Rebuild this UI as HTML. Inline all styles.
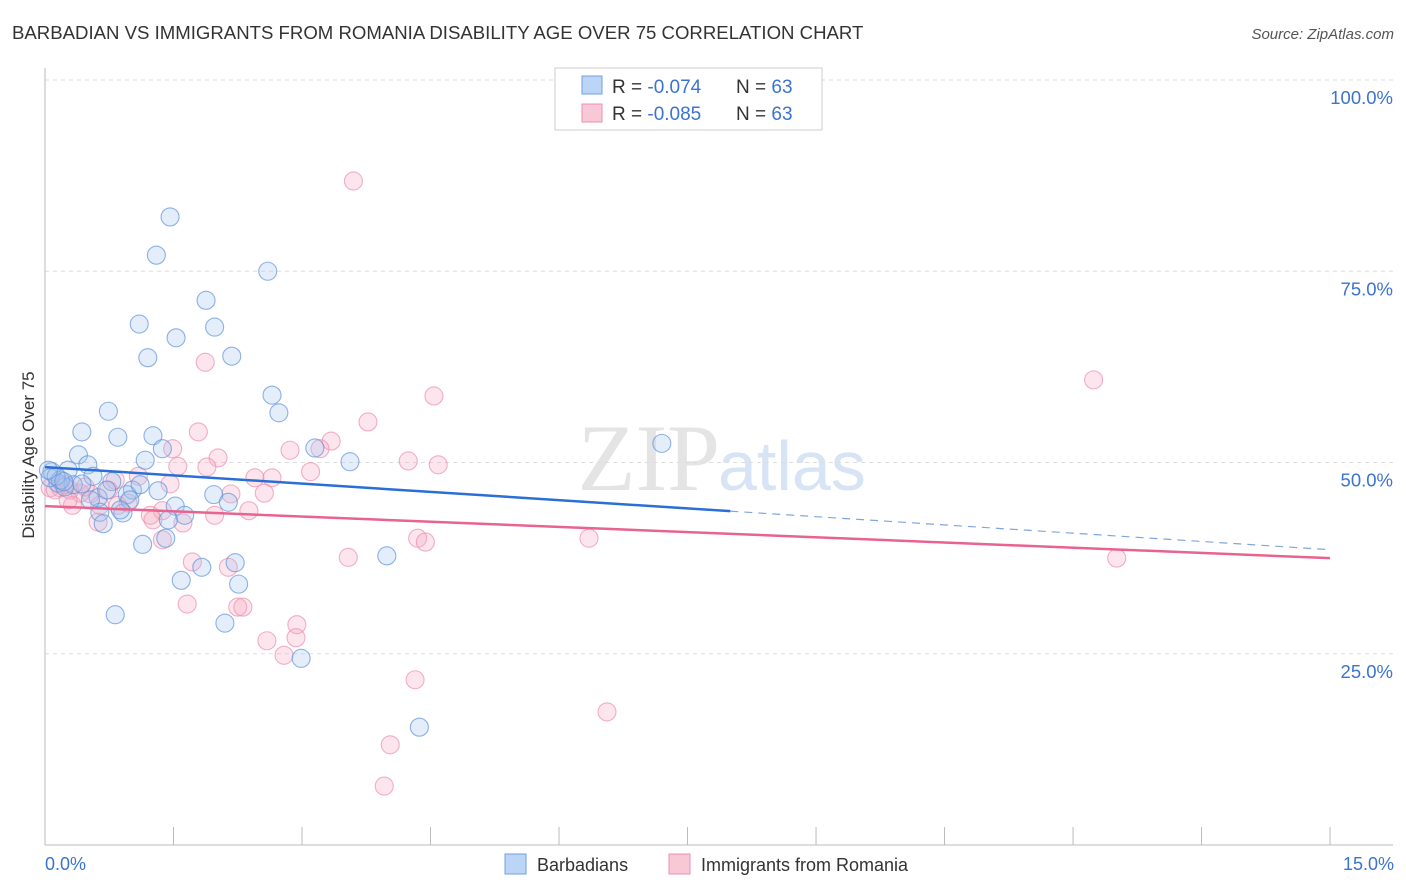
<!DOCTYPE html>
<html><head><meta charset="utf-8"><style>
body{margin:0;background:#fff;font-family:"Liberation Sans",sans-serif;}
svg{display:block}
</style></head><body>
<svg id="chart" width="1406" height="892">
<text x="12" y="39" font-size="18.6" fill="#333">BARBADIAN VS IMMIGRANTS FROM ROMANIA DISABILITY AGE OVER 75 CORRELATION CHART</text>
<text x="1394" y="39" font-size="15" fill="#555" font-style="italic" text-anchor="end">Source: ZipAtlas.com</text>
<text x="720" y="490" font-size="95" fill="#e4e4e4" text-anchor="end" font-family="Liberation Serif,serif">ZIP</text>
<text x="718" y="490" font-size="70" fill="#d6e4f5">atlas</text>
<g id="grid"></g><g id="axes"></g><g id="marks"></g><g id="trends"></g>
<text transform="translate(34,455) rotate(-90)" font-size="17" fill="#333" text-anchor="middle">Disability Age Over 75</text>
<text x="45" y="870" font-size="18" fill="#3b73d0">0.0%</text>
<text x="1394" y="870" font-size="18" fill="#3b73d0" text-anchor="end">15.0%</text>
<g>
<rect x="555" y="68" width="267" height="62" fill="#fff" stroke="#ccc"/>
<rect x="582" y="76" width="20" height="18" fill="#bcd4f5" stroke="#6f9fe0"/>
<rect x="582" y="104" width="20" height="18" fill="#f9c8d7" stroke="#ec8fae"/>
<text x="612" y="93" font-size="19" fill="#333">R = <tspan fill="#3b73d0">-0.074</tspan></text>
<text x="736" y="93" font-size="19" fill="#333">N = <tspan fill="#3b73d0">63</tspan></text>
<text x="612" y="120" font-size="19" fill="#333">R = <tspan fill="#3b73d0">-0.085</tspan></text>
<text x="736" y="120" font-size="19" fill="#333">N = <tspan fill="#3b73d0">63</tspan></text>
</g>
<g>
<rect x="505" y="854" width="21" height="20" fill="#bcd4f5" stroke="#6f9fe0"/>
<text x="537" y="871" font-size="18" fill="#333">Barbadians</text>
<rect x="669" y="854" width="21" height="20" fill="#f9c8d7" stroke="#ec8fae"/>
<text x="701" y="871" font-size="18" fill="#333">Immigrants from Romania</text>
</g>
</svg>
<script>
const blueX=[1.46,1.30,2.60,1.88,1.10,1.98,1.53,2.18,1.20,2.65,2.73,0.74,0.43,0.85,1.26,1.37,3.15,3.56,7.20,0.39,1.17,0.50,0.27,0.08,0.56,0.78,0.15,0.33,0.23,1.02,1.32,1.97,2.14,1.52,0.62,0.96,0.72,0.91,0.64,1.63,1.44,0.68,1.41,1.14,3.99,2.22,1.83,1.59,2.26,0.82,2.10,2.99,4.37,0.06,0.18,0.43,0.99,0.88,0.13,0.04,0.22,0.53,1.11];
const blueY=[82.1,77.1,75.0,71.2,68.1,67.7,66.3,63.9,63.7,58.8,56.5,56.7,54.0,53.3,53.5,51.8,51.9,50.1,52.5,51.0,50.3,49.7,49.0,48.8,48.2,47.5,47.3,47.1,46.8,46.4,46.3,45.8,44.8,44.3,45.4,45.8,46.4,43.4,43.5,43.1,42.5,42.0,40.1,39.3,37.8,36.9,36.3,34.6,34.1,30.1,29.0,24.4,15.4,48.0,47.7,47.2,45.1,43.8,48.2,49.0,47.5,45.1,47.1];
const pinkX=[3.60,12.24,1.87,4.54,3.77,1.79,3.34,1.49,3.21,2.02,4.24,4.59,1.55,1.89,2.45,2.65,3.10,1.09,1.46,2.17,2.56,0.74,0.53,0.18,0.29,0.41,0.64,0.85,0.97,1.37,1.26,1.61,1.98,2.38,0.32,0.27,0.62,1.37,4.35,4.44,6.35,3.54,1.72,2.14,12.51,1.66,2.25,2.31,2.94,2.93,2.59,2.79,4.32,6.56,4.03,3.96,0.06,0.12,0.23,0.47,0.82,1.23,2.86];
const pinkY=[86.8,60.8,63.1,58.7,55.3,54.0,52.8,51.8,51.8,50.6,50.2,49.7,49.5,49.4,48.0,48.0,48.8,48.2,47.2,45.9,46.0,46.4,45.9,46.7,46.4,46.0,44.4,44.4,44.7,43.7,42.5,42.1,43.1,43.7,44.4,45.1,42.2,39.9,40.1,39.6,40.1,37.6,37.0,36.3,37.5,31.5,31.1,31.1,28.8,27.1,26.7,24.8,21.6,17.4,13.1,7.7,46.7,46.4,47.1,46.8,47.7,43.1,51.6];
const yTicks=[100,75,50,25];
const yTickLabels=["100.0%","75.0%","50.0%","25.0%"];
const xTicks=[0,1.5,3,4.5,6,7.5,9,10.5,12,13.5,15];
const blueTrend=[49.4,38.6]; const blueSolidEnd=8.0;
const pinkTrend=[44.3,37.5];
const NS="http://www.w3.org/2000/svg";
const sx=v=>45+v*85.67, sy=v=>845-v*7.65;
function mk(p,tag,a){const e=document.createElementNS(NS,tag);for(const k in a)e.setAttribute(k,a[k]);p.appendChild(e);return e;}
const grid=document.getElementById('grid'),axes=document.getElementById('axes'),marks=document.getElementById('marks'),trends=document.getElementById('trends');
yTicks.forEach((t,i)=>{
 const l=mk(grid,'line',{x1:45,x2:1393,y1:sy(t),y2:sy(t),stroke:'#ddd','stroke-dasharray':'4,4'});
 
 
 const tx=mk(grid,'text',{x:1393,y:sy(t)+24,'font-size':18.5,fill:'#3b73d0','text-anchor':'end'});
 tx.textContent=yTickLabels[i];
 
 
});
let a=mk(axes,'line',{x1:45,x2:45,y1:68,y2:845,stroke:'#bbb'});


a=mk(axes,'line',{x1:45,x2:1393,y1:845,y2:845,stroke:'#bbb'});


xTicks.forEach(t=>{const k=mk(axes,'line',{x1:sx(t),x2:sx(t),y1:827,y2:845,stroke:'#bbb'});
 
 });
function pts(X,Y,fill,stroke,name){X.forEach((x,i)=>{const c=mk(marks,'circle',{cx:sx(x),cy:sy(Y[i]),r:9,fill:fill,'fill-opacity':0.3,stroke:stroke,'stroke-opacity':0.7,'stroke-width':1.1});
 
 });}
pts(pinkX,pinkY,'#f5a9c0','#ec8fae','point-romania');
pts(blueX,blueY,'#a4c4f0','#5f93dc','point-barbadian');
const by=x=>blueTrend[0]+(blueTrend[1]-blueTrend[0])*x/15;
let t=mk(trends,'line',{x1:sx(0),y1:sy(blueTrend[0]),x2:sx(blueSolidEnd),y2:sy(by(blueSolidEnd)),stroke:'#2a6fd6','stroke-width':2.5});


t=mk(trends,'line',{x1:sx(blueSolidEnd),y1:sy(by(blueSolidEnd)),x2:sx(15),y2:sy(blueTrend[1]),stroke:'#7fa6e0','stroke-width':1.2,'stroke-dasharray':'8,6'});


t=mk(trends,'line',{x1:sx(0),y1:sy(pinkTrend[0]),x2:sx(15),y2:sy(pinkTrend[1]),stroke:'#e8638f','stroke-width':2.5});


</script>
</body></html>
